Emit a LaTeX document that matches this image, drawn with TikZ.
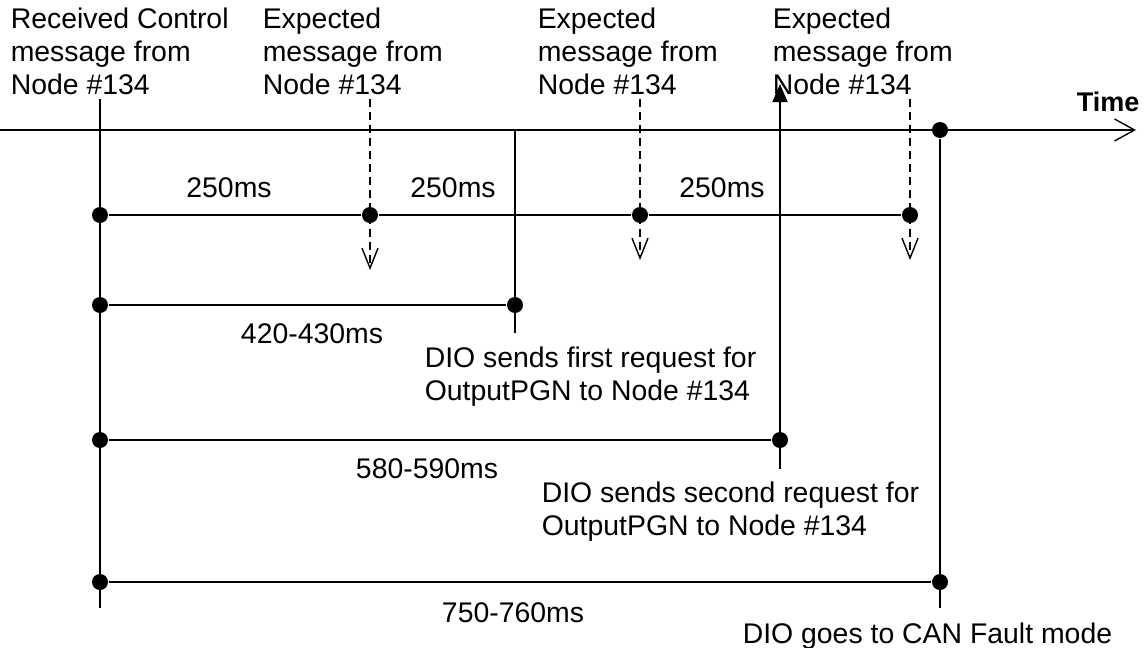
\documentclass[tikz,border=0pt]{standalone}
\usepackage{fontspec}
\setmainfont{Liberation Sans}
\usetikzlibrary{arrows.meta}
\begin{document}
\begin{tikzpicture}[x=1pt,y=-1pt,
  line width=1.6pt,
  dot/.style={circle,fill=black,inner sep=0pt,minimum size=16pt},
  lbl/.style={inner sep=0pt,font=\fontsize{28.4}{33}\selectfont},
  mtxt/.style={lbl,align=left,anchor=base west},
  ctxt/.style={lbl,anchor=base},
  openv/.style={-{Straight Barb[length=20pt,width=22pt,line width=1.4pt]}},
  dashv/.style={dash pattern=on 8pt off 5pt,-{Straight Barb[length=20pt,width=16pt,line width=1.4pt]}},
  solidup/.style={-{Triangle[length=18pt,width=15pt]}}]
\path[use as bounding box] (0,0) rectangle (1144,648);

% texts at top (base anchor = baseline of last line)
\node[mtxt] (rc) at (10,94) {Received Control\\message from\\Node \#134};
\node[mtxt] (ex1) at (262,94) {Expected\\message from\\Node \#134};
\node[mtxt] (ex2) at (537,94) {Expected\\message from\\Node \#134};
\node[mtxt] (ex3) at (772,94) {Expected\\message from\\Node \#134};
\node[lbl,anchor=base west,font=\bfseries\fontsize{27}{33}\selectfont] (time) at (1076,111) {Time};

% time axis
\coordinate (ax0) at (0,130);
\coordinate (ax1) at (1136,130);
\draw[openv] (ax0) -- (ax1);

% dots
\node[dot] (a0) at (100,215) {};
\node[dot] (a1) at (370,215) {};
\node[dot] (a2) at (640,215) {};
\node[dot] (a3) at (910,215) {};
\node[dot] (b0) at (100,305) {};
\node[dot] (b1) at (515,305) {};
\node[dot] (c0) at (100,440) {};
\node[dot] (c1) at (780,440) {};
\node[dot] (d0) at (100,582) {};
\node[dot] (d1) at (940,582) {};
\node[dot] (f0) at (940,130) {};

% main vertical
\coordinate (m0) at (100,99);
\coordinate (m1) at (100,608);
\draw (m0) -- (m1);

% horizontal intervals
\draw (a0) -- (a1) -- (a2) -- (a3);
\draw (b0) -- (b1);
\draw (c0) -- (c1);
\draw (d0) -- (d1);

% dashed expected arrows
\coordinate (e1t) at (370,99);  \coordinate (e1b) at (370,270);
\coordinate (e2t) at (640,99);  \coordinate (e2b) at (640,260);
\coordinate (e3t) at (910,99);  \coordinate (e3b) at (910,260);
\draw[dashv] (e1t) -- (e1b);
\draw[dashv] (e2t) -- (e2b);
\draw[dashv] (e3t) -- (e3b);

% request / fault verticals
\coordinate (r1t) at (515,130); \coordinate (r1b) at (515,333);
\draw (r1t) -- (r1b);
\coordinate (r2t) at (780,84); \coordinate (r2b) at (780,469);
\draw[solidup] (r2b) -- (r2t);
\coordinate (r3b) at (940,608);
\draw (f0) -- (r3b);

% interval labels
\node[ctxt] (l1) at (229,197) {250ms};
\node[ctxt] (l2) at (453,197) {250ms};
\node[ctxt] (l3) at (722,197) {250ms};
\node[ctxt] (l4) at (312,343) {420-430ms};
\node[ctxt] (l5) at (427,478) {580-590ms};
\node[ctxt] (l6) at (513,622) {750-760ms};

% event descriptions
\node[mtxt] (q1) at (424,400) {DIO sends first request for\\OutputPGN to Node \#134};
\node[mtxt] (q2) at (541,535) {DIO sends second request for\\OutputPGN to Node \#134};
\node[mtxt] (q3) at (742,643) {DIO goes to CAN Fault mode};
\end{tikzpicture}
\end{document}
